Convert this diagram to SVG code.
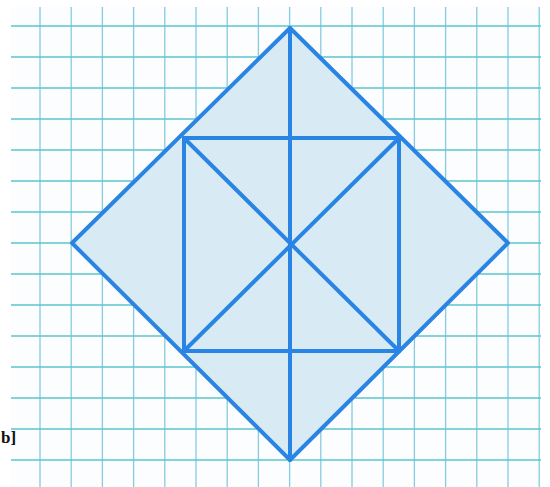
<svg xmlns="http://www.w3.org/2000/svg" width="550" height="487" viewBox="0 0 550 487">
<style>
.h{stroke:#5cc4cf;stroke-width:1.4}
.v{stroke:#86cbe0;stroke-width:1.3}
.ln{stroke:#2a84e4;stroke-width:4;stroke-linecap:round;stroke-linejoin:round;fill:none}
.lbl{font-family:"Liberation Serif",serif;font-weight:bold;font-size:17px;fill:#111}
</style>
<rect width="550" height="487" fill="#ffffff"/>
<rect x="11" y="7" width="530" height="480" fill="#fbfdfe"/>
<g id="grid">
<g class="v">
<line x1="40" y1="7" x2="40" y2="487"/><line x1="71.2" y1="7" x2="71.2" y2="487"/><line x1="102.4" y1="7" x2="102.4" y2="487"/><line x1="133.6" y1="7" x2="133.6" y2="487"/><line x1="164.8" y1="7" x2="164.8" y2="487"/><line x1="196" y1="7" x2="196" y2="487"/><line x1="227.2" y1="7" x2="227.2" y2="487"/><line x1="258.4" y1="7" x2="258.4" y2="487"/><line x1="289.6" y1="7" x2="289.6" y2="487"/><line x1="320.8" y1="7" x2="320.8" y2="487"/><line x1="352" y1="7" x2="352" y2="487"/><line x1="383.2" y1="7" x2="383.2" y2="487"/><line x1="414.4" y1="7" x2="414.4" y2="487"/><line x1="445.6" y1="7" x2="445.6" y2="487"/><line x1="476.8" y1="7" x2="476.8" y2="487"/><line x1="508" y1="7" x2="508" y2="487"/><line x1="539.2" y1="7" x2="539.2" y2="487"/>
</g>
<g class="h">
<line x1="11" y1="26" x2="541" y2="26"/><line x1="11" y1="57" x2="541" y2="57"/><line x1="11" y1="88" x2="541" y2="88"/><line x1="11" y1="119" x2="541" y2="119"/><line x1="11" y1="150" x2="541" y2="150"/><line x1="11" y1="181" x2="541" y2="181"/><line x1="11" y1="212" x2="541" y2="212"/><line x1="11" y1="243" x2="541" y2="243"/><line x1="11" y1="274" x2="541" y2="274"/><line x1="11" y1="305" x2="541" y2="305"/><line x1="11" y1="336" x2="541" y2="336"/><line x1="11" y1="367" x2="541" y2="367"/><line x1="11" y1="398" x2="541" y2="398"/><line x1="11" y1="429" x2="541" y2="429"/><line x1="11" y1="460" x2="541" y2="460"/>
</g>
</g>
<g id="shape">
<polygon points="290,28 508,243 290,460 72,243" fill="#d8ebf5"/>
<polygon class="ln" points="290,28 508,243 290,460 72,243"/>
<rect class="ln" x="184" y="138" width="215" height="213"/>
<line class="ln" x1="290" y1="28" x2="290" y2="460"/>
<line class="ln" x1="184" y1="138" x2="399" y2="351"/>
<line class="ln" x1="399" y1="138" x2="184" y2="351"/>
</g>
<text class="lbl" x="1" y="443">b]</text>
</svg>
